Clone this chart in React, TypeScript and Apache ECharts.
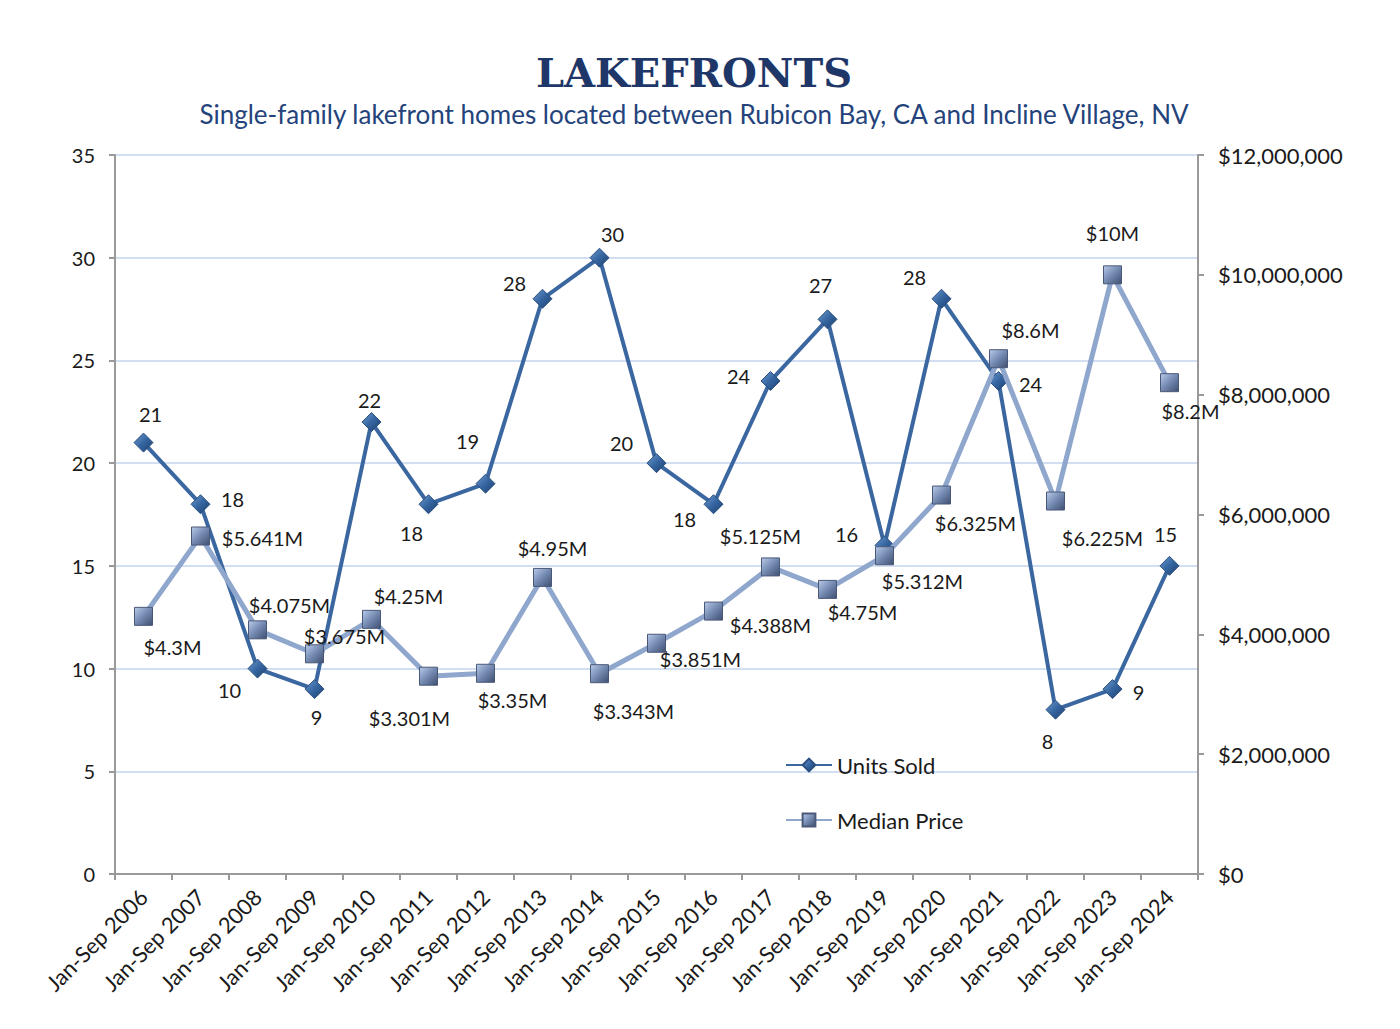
import React, { useEffect, useRef } from "react";
import * as echarts from "echarts";

const categories = [
  "Jan-Sep 2006", "Jan-Sep 2007", "Jan-Sep 2008", "Jan-Sep 2009", "Jan-Sep 2010",
  "Jan-Sep 2011", "Jan-Sep 2012", "Jan-Sep 2013", "Jan-Sep 2014", "Jan-Sep 2015",
  "Jan-Sep 2016", "Jan-Sep 2017", "Jan-Sep 2018", "Jan-Sep 2019", "Jan-Sep 2020",
  "Jan-Sep 2021", "Jan-Sep 2022", "Jan-Sep 2023", "Jan-Sep 2024",
];

const unitsSold = [21, 18, 10, 9, 22, 18, 19, 28, 30, 20, 18, 24, 27, 16, 28, 24, 8, 9, 15];

const medianPrice = [
  4300000, 5641000, 4075000, 3675000, 4250000, 3301000, 3350000, 4950000, 3343000, 3851000,
  4388000, 5125000, 4750000, 5312000, 6325000, 8600000, 6225000, 10000000, 8200000,
];

const priceLabels = [
  "$4.3M", "$5.641M", "$4.075M", "$3.675M", "$4.25M", "$3.301M", "$3.35M", "$4.95M", "$3.343M",
  "$3.851M", "$4.388M", "$5.125M", "$4.75M", "$5.312M", "$6.325M", "$8.6M", "$6.225M", "$10M", "$8.2M",
];

// label offsets (px, relative to the point)
const unitsLabelOffsets = [
  [7, -29], [32, -5], [-28, 21], [2, 28], [-2, -22], [-17, 29], [-18, -43], [-28, -16], [13, -24],
  [-35, -20], [-29, 15], [-32, -5], [-7, -34], [-38, -11], [-27, -22], [32, 3], [-8, 31], [26, 3], [-4, -32],
];
const priceLabelOffsets = [
  [29, 31], [62, 2], [32, -25], [30, -18], [37, -23], [-19, 42], [27, 27], [10, -29], [34, 37],
  [44, 16], [57, 14], [-10, -31], [35, 23], [38, 25], [34, 28], [32, -29], [47, 37], [0, -42], [21, 28],
];

const LABEL_FONT = "Lato, 'Open Sans', sans-serif";

export default function App() {
  const ref = useRef<HTMLDivElement>(null);
  useEffect(() => {
    document.body.style.margin = "0";
    const chart = echarts.init(ref.current!, null, { renderer: "svg" });
    const unitsColor = "#3b67a1";
    const priceColor = "#8fa6cd";
    const diamondFill = new echarts.graphic.LinearGradient(0, 0, 1, 1, [
      { offset: 0, color: "#6f9bd0" },
      { offset: 0.5, color: "#3565a0" },
      { offset: 1, color: "#1d3f6e" },
    ]);
    const squareFill = new echarts.graphic.LinearGradient(0, 0, 1, 1, [
      { offset: 0, color: "#b9cbea" },
      { offset: 0.5, color: "#7389b0" },
      { offset: 1, color: "#3f4f70" },
    ]);
    const labelBase = {
      show: true,
      position: "inside",
      color: "#1a1a1a",
      fontSize: 20,
      fontFamily: LABEL_FONT,
    };
    chart.setOption({
      animation: false,
      backgroundColor: "#ffffff",
      title: [
        {
          text: "LAKEFRONTS",
          left: 689,
          textAlign: "center",
          top: 47,
          textStyle: {
            fontFamily: "'DejaVu Serif', 'Liberation Serif', serif",
            fontWeight: "bold",
            fontSize: 40,
            color: "#1f3768",
          },
        },
        {
          text: "Single-family lakefront homes located between Rubicon Bay, CA and Incline Village, NV",
          left: 689,
          textAlign: "center",
          top: 96,
          textStyle: {
            fontFamily: LABEL_FONT,
            fontWeight: "normal",
            fontSize: 26,
            color: "#24437b",
          },
        },
      ],
      legend: {
        orient: "vertical",
        left: 780,
        top: 749,
        itemGap: 33,
        itemWidth: 46,
        itemHeight: 16,
        textStyle: { fontFamily: LABEL_FONT, fontSize: 22, color: "#1a1a1a" },
        data: ["Units Sold", "Median Price"],
      },
      grid: { left: 115, right: 202, top: 155, height: 719 },
      xAxis: {
        type: "category",
        data: categories,
        boundaryGap: true,
        axisLine: { lineStyle: { color: "#999999", width: 2 } },
        axisTick: { show: true, alignWithLabel: false, length: 6, lineStyle: { color: "#999999", width: 2 } },
        axisLabel: {
          rotate: 45,
          fontSize: 22,
          fontFamily: LABEL_FONT,
          color: "#1a1a1a",
          margin: 19,
          interval: 0,
        },
      },
      yAxis: [
        {
          type: "value",
          min: 0,
          max: 35,
          interval: 5,
          axisLine: { show: true, lineStyle: { color: "#999999", width: 2 } },
          axisTick: { show: true, length: 6, lineStyle: { color: "#999999", width: 2 } },
          axisLabel: { fontSize: 20, fontFamily: LABEL_FONT, color: "#1a1a1a", margin: 20 },
          splitLine: { show: true, lineStyle: { color: "#c3d3ee", width: 1.5 } },
        },
        {
          type: "value",
          min: 0,
          max: 12000000,
          interval: 2000000,
          position: "right",
          axisLine: { show: true, lineStyle: { color: "#999999", width: 2 } },
          axisTick: { show: true, length: 6, lineStyle: { color: "#999999", width: 2 } },
          axisLabel: {
            fontSize: 22,
            fontFamily: LABEL_FONT,
            color: "#1a1a1a",
            margin: 20,
            formatter: (v: number) => "$" + v.toLocaleString("en-US"),
          },
          splitLine: { show: false },
        },
      ],
      series: [
        {
          name: "Units Sold",
          type: "line",
          yAxisIndex: 0,
          symbol: "diamond",
          symbolSize: 19,
          z: 3,
          lineStyle: { color: unitsColor, width: 4 },
          itemStyle: { color: diamondFill, borderColor: "#2a4f80", borderWidth: 1 },
          data: unitsSold.map((v, i) => ({
            value: v,
            label: { ...labelBase, offset: unitsLabelOffsets[i] },
          })),
        },
        {
          name: "Median Price",
          type: "line",
          yAxisIndex: 1,
          symbol: "rect",
          symbolSize: 18,
          z: 4,
          lineStyle: { color: priceColor, width: 5 },
          itemStyle: { color: squareFill, borderColor: "#4a5878", borderWidth: 1 },
          data: medianPrice.map((v, i) => ({
            value: v,
            label: { ...labelBase, offset: priceLabelOffsets[i], formatter: priceLabels[i] },
          })),
        },
      ],
    });
    return () => chart.dispose();
  }, []);
  return (
    <div
      ref={ref}
      style={{ position: "fixed", left: 0, top: 0, width: 1400, height: 1029, background: "#fff" }}
    />
  );
}
